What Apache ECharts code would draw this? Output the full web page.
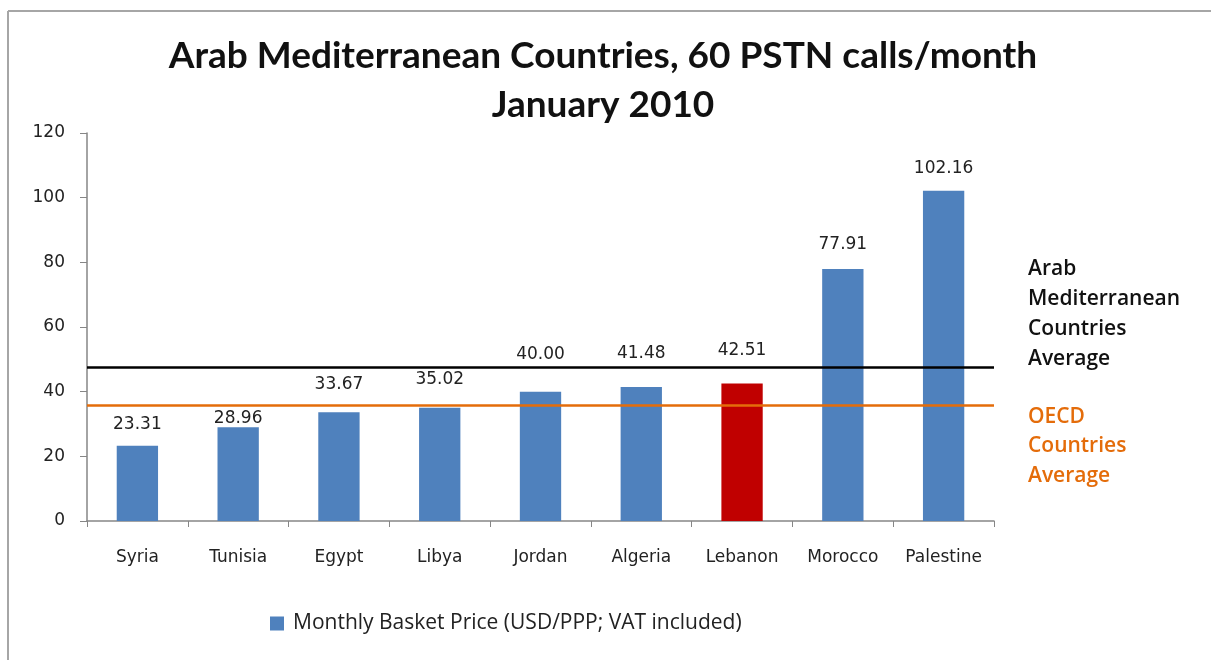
<!DOCTYPE html>
<html><head><meta charset="utf-8">
<script src="https://cdn.jsdelivr.net/npm/echarts@6/dist/echarts.min.js"></script>
<style>html,body{margin:0;padding:0;background:#fff}#c{width:1211px;height:660px}</style>
</head><body><div id="c"></div>
<script>
const categories = ['Syria','Tunisia','Egypt','Libya','Jordan','Algeria','Lebanon','Morocco','Palestine'];
const prices = [23.31, 28.96, 33.67, 35.02, 40.00, 41.48, 42.51, 77.91, 102.16];
const highlighted = 'Lebanon';
const arabAverage = 47.6;
const oecdAverage = 35.9;
const yTicks = [0, 20, 40, 60, 80, 100, 120];
const seriesName = 'Monthly Basket Price (USD/PPP; VAT included)';

const labelDistance = [13, 0, 19, 20, 29, 25, 24, 16, 14];
const BLUE = '#4F81BD', RED = '#C00000', ORANGE = '#E46C0A';

const chart = echarts.init(document.getElementById('c'), null, {renderer: 'canvas'});
chart.setOption({
  animation: false,
  backgroundColor: '#fff',
  title: {
    text: 'Arab Mediterranean Countries, 60 PSTN calls/month\nJanuary 2010',
    left: 598, top: 27, textAlign: 'center',
    textStyle: {fontFamily: 'Lato', fontWeight: 'bold', fontSize: 37, lineHeight: 49, color: '#111'}
  },
  legend: {
    left: 265, top: 608, itemWidth: 14, itemHeight: 14, itemGap: 10,
    icon: 'rect',
    textStyle: {fontFamily: 'Open Sans', fontSize: 21, color: '#222', padding: [0, 0, 0, 4]},
    data: [{name: seriesName, itemStyle: {color: BLUE}}]
  },
  grid: {left: 87, right: 217, top: 133, bottom: 139, containLabel: false},
  xAxis: {
    type: 'category', data: categories,
    axisLine: {lineStyle: {color: '#868686', width: 1.5}},
    axisTick: {show: true, length: 6, alignWithLabel: false, lineStyle: {color: '#868686'}},
    axisLabel: {fontFamily: 'DejaVu Sans', fontSize: 17, color: '#222', margin: 28}
  },
  yAxis: {
    type: 'value', min: yTicks[0], max: yTicks[yTicks.length - 1], interval: yTicks[1] - yTicks[0],
    splitLine: {show: false},
    axisLine: {show: true, lineStyle: {color: '#868686', width: 1.5}},
    axisTick: {show: true, length: 7, lineStyle: {color: '#868686'}},
    axisLabel: {fontFamily: 'DejaVu Sans', fontSize: 17, color: '#222', margin: 22}
  },
  series: [{
    name: seriesName, type: 'bar', barWidth: '41%',
    data: prices.map((v, i) => ({
      value: v,
      itemStyle: {color: categories[i] === highlighted ? RED : BLUE},
      label: {distance: labelDistance[i]}
    })),
    label: {
      show: true, position: 'top', fontFamily: 'DejaVu Sans', fontSize: 17, color: '#222',
      formatter: p => p.value.toFixed(2)
    },
    markLine: {
      silent: true, symbol: 'none', label: {show: false},
      data: [
        {yAxis: arabAverage, lineStyle: {color: '#000', width: 2.5, type: 'solid'}},
        {yAxis: oecdAverage, lineStyle: {color: ORANGE, width: 2.5, type: 'solid'}}
      ]
    }
  }],
  graphic: [
    {type: 'line', shape: {x1: 8, y1: 11, x2: 1211, y2: 11}, style: {stroke: '#a6a6a6', lineWidth: 2}},
    {type: 'line', shape: {x1: 8, y1: 11, x2: 8, y2: 660}, style: {stroke: '#a6a6a6', lineWidth: 2}},
    {type: 'text', left: 1028, top: 254, style: {
      text: 'Arab\nMediterranean\nCountries\nAverage', fill: '#111',
      font: '600 21px "Open Sans"', lineHeight: 30}},
    {type: 'text', left: 1028, top: 402, style: {
      text: 'OECD\nCountries\nAverage', fill: ORANGE,
      font: '600 21px "Open Sans"', lineHeight: 29.5}}
  ]
});
</script></body></html>
